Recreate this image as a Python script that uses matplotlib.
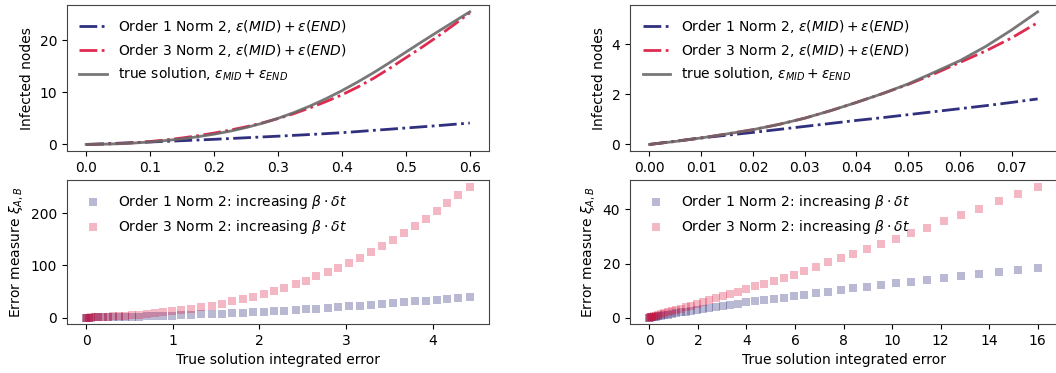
import numpy as np
import matplotlib
matplotlib.use('Agg')
import matplotlib.pyplot as plt

plt.rcParams['font.size'] = 10
plt.rcParams['axes.edgecolor'] = '#444444'

# top left: beta*dt from 0 to 0.6
bdt_a = [0.0, 0.025, 0.05, 0.075, 0.1, 0.125, 0.15, 0.175, 0.2, 0.225, 0.25, 0.275, 0.3,
         0.325, 0.35, 0.375, 0.4, 0.425, 0.45, 0.475, 0.5, 0.525, 0.55, 0.575, 0.6]
ord1_a = [0, 0.11, 0.23, 0.35, 0.47, 0.59, 0.72, 0.85, 0.98, 1.13, 1.28, 1.43, 1.58,
          1.74, 1.9, 2.07, 2.25, 2.47, 2.7, 2.92, 3.15, 3.37, 3.6, 3.85, 4.1]
ord3_a = [0, 0.05, 0.15, 0.32, 0.56, 0.87, 1.24, 1.68, 2.18, 2.74, 3.38, 4.1, 4.95,
          5.9, 7.0, 8.2, 9.5, 11.0, 12.7, 14.6, 16.6, 18.6, 20.7, 22.9, 25.2]
true_a = [0, 0.04, 0.13, 0.27, 0.48, 0.75, 1.08, 1.48, 1.96, 2.54, 3.23, 4.04, 5.0,
          6.1, 7.35, 8.75, 10.3, 11.98, 13.78, 15.7, 17.68, 19.66, 21.6, 23.5, 25.4]

# top right: beta*dt from 0 to 0.075
bdt_b = [0.0, 0.005, 0.01, 0.015, 0.02, 0.025, 0.03, 0.035, 0.04, 0.045, 0.05,
         0.055, 0.06, 0.065, 0.07, 0.075]
ord1_b = [0, 0.13, 0.26, 0.37, 0.48, 0.6, 0.72, 0.84, 0.96, 1.07, 1.19,
          1.31, 1.43, 1.55, 1.68, 1.82]
ord3_b = [0, 0.12, 0.26, 0.42, 0.59, 0.8, 1.05, 1.35, 1.68, 2.03, 2.40,
          2.82, 3.28, 3.74, 4.26, 4.87]
true_b = [0, 0.12, 0.26, 0.42, 0.59, 0.8, 1.05, 1.35, 1.68, 2.03, 2.42,
          2.88, 3.35, 3.92, 4.58, 5.3]

# bottom left: error measure vs true integrated error
err_a = [0.0, 0.01, 0.03, 0.06, 0.10, 0.14, 0.19, 0.25, 0.31, 0.38, 0.45, 0.53, 0.61,
         0.70, 0.79, 0.89, 0.99, 1.10, 1.21, 1.33, 1.45, 1.57, 1.69, 1.81, 1.93, 2.05,
         2.17, 2.29, 2.42, 2.54, 2.66, 2.79, 2.91, 3.04, 3.16, 3.29, 3.42, 3.54, 3.67,
         3.80, 3.92, 4.05, 4.17, 4.30, 4.43]
xi1_a = [0, 0.03, 0.08, 0.16, 0.27, 0.38, 0.53, 0.72, 0.92, 1.17, 1.43, 1.75, 2.08,
         2.5, 2.9, 3.4, 3.95, 4.6, 5.2, 6.0, 6.8, 7.6, 8.5, 9.4, 10.4, 11.4,
         12.5, 13.6, 14.8, 16.0, 17.3, 18.7, 20.0, 21.5, 22.9, 24.4, 26.1, 27.6, 29.3,
         31.1, 32.7, 34.5, 36.2, 38.1, 40.0]
xi3_a = [0, 0.03, 0.1, 0.25, 0.45, 0.7, 1.1, 1.6, 2.2, 2.9, 3.7, 4.7, 5.8,
         7.0, 8.5, 10.0, 12.0, 14.0, 17.0, 20.0, 23.0, 27.0, 31.0, 35.0, 40.0, 45.0,
         51.0, 57.0, 64.0, 71.0, 79.0, 87.0, 96.0, 105.0, 115.0, 126.0, 137.0, 149.0, 162.0,
         175.0, 189.0, 204.0, 219.0, 235.0, 251.0]

# bottom right
err_b = [0.0, 0.015, 0.05, 0.11, 0.18, 0.27, 0.37, 0.49, 0.62, 0.77, 0.93, 1.1, 1.3,
         1.5, 1.72, 1.95, 2.2, 2.46, 2.74, 3.03, 3.34, 3.66, 4.0, 4.35, 4.72, 5.12,
         5.54, 5.95, 6.39, 6.87, 7.37, 7.88, 8.4, 8.95, 9.53, 10.17, 10.8, 11.43,
         12.15, 12.86, 13.6, 14.39, 15.18, 16.0]
xi1_b = [0, 0.02, 0.075, 0.16, 0.27, 0.4, 0.55, 0.73, 0.92, 1.14, 1.37, 1.62, 1.9,
         2.2, 2.5, 2.85, 3.2, 3.6, 3.95, 4.35, 4.75, 5.2, 5.6, 6.0, 6.4, 6.9,
         7.4, 7.9, 8.4, 9.0, 9.6, 10.2, 10.8, 11.4, 12.0, 12.7, 13.3, 14.0,
         14.7, 15.4, 16.1, 16.8, 17.5, 18.2]
xi3_b = [0, 0.04, 0.12, 0.26, 0.43, 0.65, 0.9, 1.2, 1.55, 1.93, 2.35, 2.8, 3.3,
         3.85, 4.4, 5.0, 5.7, 6.4, 7.1, 7.9, 8.7, 9.6, 10.5, 11.6, 12.6, 13.7,
         14.8, 15.9, 17.4, 18.8, 20.4, 22.0, 23.5, 25.3, 27.2, 29.1, 31.1, 33.3,
         35.7, 37.8, 40.2, 43.1, 45.7, 48.4]

c1 = 'midnightblue'
c3 = 'crimson'
ct = 'dimgray'

fig = plt.figure(figsize=(10.56, 3.73), dpi=100)
ax_tl = fig.add_axes([0.0634, 0.595, 0.3996, 0.391])
ax_tr = fig.add_axes([0.5966, 0.595, 0.4044, 0.391])
ax_bl = fig.add_axes([0.0634, 0.131, 0.3996, 0.386])
ax_br = fig.add_axes([0.5966, 0.131, 0.4044, 0.386])

for ax, x, o1, o3, tr in [(ax_tl, bdt_a, ord1_a, ord3_a, true_a),
                          (ax_tr, bdt_b, ord1_b, ord3_b, true_b)]:
    ax.plot(x, o1, '-.', color=c1, lw=2, alpha=0.9,
            label=r'Order 1 Norm 2, $\varepsilon(MID) + \varepsilon(END)$')
    ax.plot(x, o3, '-.', color=c3, lw=2, alpha=0.9,
            label=r'Order 3 Norm 2, $\varepsilon(MID) + \varepsilon(END)$')
    ax.plot(x, tr, '-', color=ct, lw=2, alpha=0.9,
            label=r'true solution, $\varepsilon_{MID} + \varepsilon_{END}$')
    ax.set_ylabel('Infected nodes')
    # this label ends up mostly behind the lower axes, as in the original
    ax.set_xlabel(r'$\beta\cdot\delta t$')
    ax.legend(loc='upper left', frameon=False)

for ax, x, y1, y3 in [(ax_bl, err_a, xi1_a, xi3_a), (ax_br, err_b, xi1_b, xi3_b)]:
    ax.scatter(x, y1, marker='s', s=36, color=c1, alpha=0.3, lw=0,
               label=r'Order 1 Norm 2: increasing $\beta\cdot\delta t$')
    ax.scatter(x, y3, marker='s', s=36, color=c3, alpha=0.3, lw=0,
               label=r'Order 3 Norm 2: increasing $\beta\cdot\delta t$')
    ax.set_ylabel(r'Error measure $\xi_{A,B}$')
    ax.set_xlabel('True solution integrated error')
    ax.legend(loc='upper left', frameon=False)

ax_tl.set_yticks([0, 10, 20])
ax_tr.set_yticks([0, 2, 4])
ax_bl.set_yticks([0, 100, 200])
ax_br.set_yticks([0, 20, 40])

fig.savefig('out.png', dpi=100)
